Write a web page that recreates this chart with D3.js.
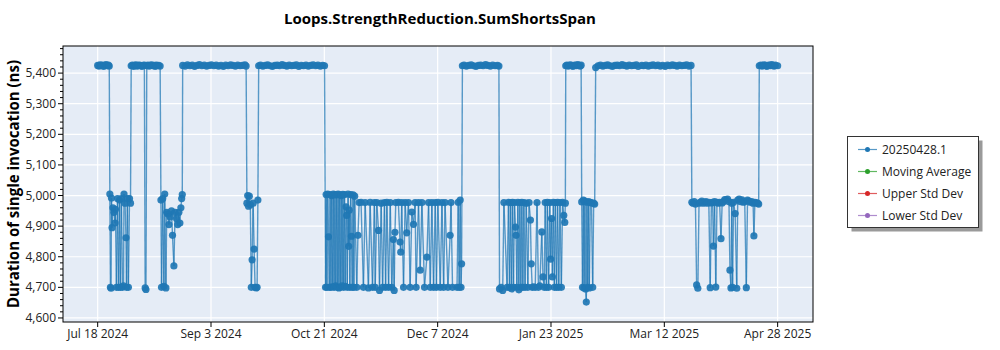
<!DOCTYPE html>
<html><head><meta charset="utf-8">
<script src="https://cdn.jsdelivr.net/npm/d3@7"></script>
<style>
body{margin:0;background:#fff}
text{font-family:"Open Sans","Noto Sans",sans-serif}
</style>
</head><body><svg id="c" width="1000" height="350"></svg>
<script>
const chartTitle = "Loops.StrengthReduction.SumShortsSpan";
const yAxisTitle = "Duration of single invocation (ns)";
const seriesNames = ["20250428.1", "Moving Average", "Upper Std Dev", "Lower Std Dev"];
const seriesColors = ["#1f77b4", "#2ca02c", "#d62728", "#9467bd"];
const xTickDates = ["2024-07-18T12","2024-09-03T20","2024-10-21T04","2024-12-07T12","2025-01-23T20","2025-03-12T04","2025-04-28T12"];
const xTickLabels = ["Jul 18 2024","Sep 3 2024","Oct 21 2024","Dec 7 2024","Jan 23 2025","Mar 12 2025","Apr 28 2025"];
const yTickValues = [4600,4700,4800,4900,5000,5100,5200,5300,5400];

const runTimes = [
"2024-07-18T12","2024-07-19T00","2024-07-19T12","2024-07-20T00","2024-07-20T12","2024-07-21T00",
"2024-07-21T12","2024-07-22T00","2024-07-22T12","2024-07-23T00","2024-07-23T08",
"2024-07-23T14","2024-07-23T20","2024-07-24T02","2024-07-24T06","2024-07-24T12","2024-07-24T21",
"2024-07-25T07","2024-07-25T18","2024-07-25T22","2024-07-26T08","2024-07-26T19","2024-07-27T05",
"2024-07-27T15","2024-07-28T00","2024-07-28T10","2024-07-28T21","2024-07-29T07","2024-07-29T12",
"2024-07-29T22","2024-07-30T08","2024-07-30T13","2024-07-30T22","2024-07-31T08","2024-07-31T19",
"2024-08-01T05",
"2024-08-01T12","2024-08-02T00","2024-08-02T12","2024-08-03T00","2024-08-03T12","2024-08-04T00",
"2024-08-04T12","2024-08-05T00","2024-08-05T12","2024-08-06T00","2024-08-06T12","2024-08-07T00",
"2024-08-07T08","2024-08-07T16","2024-08-08T00","2024-08-08T12","2024-08-09T00","2024-08-09T12",
"2024-08-10T00","2024-08-10T12","2024-08-11T00","2024-08-11T12","2024-08-12T00","2024-08-12T12",
"2024-08-13T00","2024-08-13T14",
"2024-08-13T22","2024-08-14T04","2024-08-14T16","2024-08-15T04","2024-08-15T12","2024-08-16T00",
"2024-08-16T08","2024-08-16T20","2024-08-17T06","2024-08-17T18","2024-08-18T08","2024-08-18T18",
"2024-08-19T08","2024-08-19T20","2024-08-20T10","2024-08-20T22","2024-08-21T10","2024-08-21T20",
"2024-08-22T06","2024-08-22T14","2024-08-22T20",
"2024-08-23T00","2024-08-24T00","2024-08-25T00","2024-08-26T00","2024-08-27T00","2024-08-28T00",
"2024-08-29T00","2024-08-30T00","2024-08-31T00","2024-09-01T00","2024-09-02T00","2024-09-03T00",
"2024-09-04T00","2024-09-05T00","2024-09-06T00","2024-09-07T00","2024-09-08T00","2024-09-09T00",
"2024-09-10T00","2024-09-11T00","2024-09-12T00","2024-09-13T00","2024-09-14T00","2024-09-15T00",
"2024-09-16T00","2024-09-17T00","2024-09-18T00","2024-09-18T12",
"2024-09-18T20","2024-09-19T04","2024-09-19T12","2024-09-19T20","2024-09-20T06","2024-09-20T16",
"2024-09-21T00","2024-09-21T10","2024-09-21T20","2024-09-22T06","2024-09-22T16","2024-09-23T02",
"2024-09-23T10",
"2024-09-23T18","2024-09-24T12","2024-09-25T12","2024-09-26T12","2024-09-27T12","2024-09-28T12",
"2024-09-29T12","2024-09-30T12","2024-10-01T12","2024-10-02T12","2024-10-03T12","2024-10-04T12",
"2024-10-05T12","2024-10-06T12","2024-10-07T12","2024-10-08T12","2024-10-09T12","2024-10-10T12",
"2024-10-11T12","2024-10-12T12","2024-10-13T12","2024-10-14T12","2024-10-15T12","2024-10-16T12",
"2024-10-17T12","2024-10-18T12","2024-10-19T12","2024-10-20T12","2024-10-21T06",
"2024-10-21T16","2024-10-21T22","2024-10-22T06","2024-10-22T14","2024-10-22T22","2024-10-23T06",
"2024-10-23T14","2024-10-23T22","2024-10-24T06","2024-10-24T14","2024-10-24T22","2024-10-25T06",
"2024-10-25T14","2024-10-25T22","2024-10-26T06","2024-10-26T14","2024-10-26T22","2024-10-27T06",
"2024-10-27T14","2024-10-27T22","2024-10-28T06","2024-10-28T14","2024-10-28T22","2024-10-29T06",
"2024-10-29T14","2024-10-29T22","2024-10-30T06","2024-10-30T12","2024-10-30T18","2024-10-31T02",
"2024-10-31T08","2024-10-31T14","2024-10-31T20","2024-11-01T04","2024-11-01T12","2024-11-01T20",
"2024-11-02T04","2024-11-02T12","2024-11-02T20",
"2024-11-03T17","2024-11-04T05","2024-11-04T17","2024-11-05T12","2024-11-06T12","2024-11-07T05",
"2024-11-08T14","2024-11-09T07","2024-11-10T07","2024-11-11T02","2024-11-11T10","2024-11-12T02",
"2024-11-12T19","2024-11-13T05","2024-11-13T22","2024-11-14T12","2024-11-15T07","2024-11-15T18",
"2024-11-16T07","2024-11-17T00","2024-11-17T17","2024-11-18T08","2024-11-19T00","2024-11-19T08",
"2024-11-19T16","2024-11-20T00","2024-11-21T02","2024-11-21T19","2024-11-22T02","2024-11-22T12",
"2024-11-23T06","2024-11-23T22","2024-11-24T14","2024-11-25T07","2024-11-26T00","2024-11-26T17",
"2024-11-27T10","2024-11-28T02","2024-11-28T12","2024-11-29T12","2024-11-30T05","2024-11-30T22",
"2024-12-02T00","2024-12-03T00","2024-12-03T17","2024-12-04T10","2024-12-05T02","2024-12-05T19",
"2024-12-06T12","2024-12-07T00","2024-12-07T14","2024-12-08T14","2024-12-09T07","2024-12-10T00",
"2024-12-10T14","2024-12-11T19","2024-12-12T17","2024-12-13T02","2024-12-13T17",
"2024-12-15T14","2024-12-16T02","2024-12-16T12","2024-12-16T22","2024-12-17T06","2024-12-17T12",
"2024-12-17T20","2024-12-18T12","2024-12-19T12","2024-12-20T12","2024-12-21T12","2024-12-22T12",
"2024-12-23T12","2024-12-24T12","2024-12-25T12","2024-12-26T12","2024-12-27T12","2024-12-28T12",
"2024-12-29T12","2024-12-30T12","2024-12-31T12","2025-01-01T12","2025-01-02T02",
"2025-01-02T08","2025-01-03T00","2025-01-03T16","2025-01-04T04","2025-01-05T12","2025-01-06T02",
"2025-01-06T12","2025-01-06T22","2025-01-07T08","2025-01-07T18","2025-01-08T04","2025-01-08T14",
"2025-01-09T00","2025-01-09T06","2025-01-09T14","2025-01-10T00","2025-01-10T10","2025-01-10T20",
"2025-01-11T06","2025-01-11T16","2025-01-12T02","2025-01-12T12","2025-01-13T00","2025-01-13T12",
"2025-01-14T04","2025-01-14T16","2025-01-15T06","2025-01-15T14","2025-01-16T00","2025-01-16T12",
"2025-01-17T06","2025-01-18T00","2025-01-18T14","2025-01-19T04","2025-01-20T00","2025-01-20T12",
"2025-01-21T00","2025-01-21T10","2025-01-21T22","2025-01-22T08","2025-01-22T20","2025-01-23T08",
"2025-01-23T16","2025-01-24T02","2025-01-24T10","2025-01-24T20","2025-01-25T06","2025-01-25T16",
"2025-01-26T04","2025-01-26T14","2025-01-27T02","2025-01-27T14","2025-01-28T04","2025-01-28T16",
"2025-01-29T04","2025-01-29T14","2025-01-29T20",
"2025-01-30T00","2025-01-30T12","2025-01-31T00","2025-01-31T12","2025-02-01T00","2025-02-01T12",
"2025-02-02T00","2025-02-02T12","2025-02-03T00","2025-02-03T12","2025-02-04T00","2025-02-04T12",
"2025-02-05T00","2025-02-05T10",
"2025-02-05T16","2025-02-06T00","2025-02-06T08","2025-02-06T16","2025-02-07T00","2025-02-07T08",
"2025-02-07T14","2025-02-07T20","2025-02-08T04","2025-02-08T12","2025-02-08T20","2025-02-09T06",
"2025-02-09T18","2025-02-10T06","2025-02-10T16","2025-02-11T02",
"2025-02-11T12","2025-02-12T12","2025-02-13T12","2025-02-14T12","2025-02-15T12","2025-02-16T12",
"2025-02-17T12","2025-02-18T12","2025-02-19T12","2025-02-20T12","2025-02-21T12","2025-02-22T12",
"2025-02-23T12","2025-02-24T12","2025-02-25T12","2025-02-26T12","2025-02-27T12","2025-02-28T12",
"2025-03-01T06","2025-03-02T18","2025-03-03T12","2025-03-04T12","2025-03-05T12","2025-03-06T12",
"2025-03-07T12","2025-03-08T12","2025-03-09T12","2025-03-10T12","2025-03-11T12","2025-03-12T12",
"2025-03-13T12","2025-03-14T12","2025-03-15T12","2025-03-16T12","2025-03-17T12","2025-03-18T12",
"2025-03-19T12","2025-03-20T12","2025-03-21T12","2025-03-22T12","2025-03-23T08",
"2025-03-23T16","2025-03-24T04","2025-03-24T16","2025-03-25T04","2025-03-25T16","2025-03-26T04",
"2025-03-26T16","2025-03-27T06","2025-03-27T20","2025-03-28T10","2025-03-29T00","2025-03-29T14",
"2025-03-30T04","2025-03-30T18","2025-03-31T08","2025-03-31T20","2025-04-01T08","2025-04-01T16",
"2025-04-02T04","2025-04-02T16","2025-04-03T04","2025-04-03T16","2025-04-04T06","2025-04-04T20",
"2025-04-05T08","2025-04-05T20","2025-04-06T10","2025-04-07T00","2025-04-07T14","2025-04-08T04",
"2025-04-08T14","2025-04-09T00","2025-04-09T08","2025-04-09T16","2025-04-10T02","2025-04-10T18",
"2025-04-11T10","2025-04-11T20","2025-04-12T10","2025-04-13T00","2025-04-13T14","2025-04-14T04",
"2025-04-14T18","2025-04-15T10","2025-04-15T22","2025-04-16T12","2025-04-17T02","2025-04-17T16",
"2025-04-18T06","2025-04-18T14","2025-04-19T00","2025-04-19T14","2025-04-20T04","2025-04-20T14",
"2025-04-20T20","2025-04-21T12","2025-04-22T00","2025-04-22T12","2025-04-23T00","2025-04-23T12",
"2025-04-24T00","2025-04-24T12","2025-04-25T00","2025-04-25T12","2025-04-26T00","2025-04-26T12",
"2025-04-27T00","2025-04-27T12","2025-04-28T12"
];

const durations = [
5425,5423,5427,5424,5426,5422,
5425,5428,5424,5426,5423,
5005,4700,4697,4992,4895,4960,
4945,4910,4955,4700,4990,4700,
4985,4700,4990,4700,4705,5005,
4975,4862,4700,4990,4700,4990,
4975,
5424,5426,5422,5425,5427,5423,
5425,5426,5424,5422,5425,5426,
4698,4693,5424,5426,5423,5425,
5427,5424,5425,5422,5426,5424,
5425,5423,
4985,4700,4990,4703,5005,4698,
4945,4940,4905,4930,4950,4870,
4770,4945,4925,4905,4945,4910,
4960,4990,5003,
5425,5423,5427,5424,5426,5422,
5425,5428,5424,5426,5423,5425,
5427,5424,5426,5423,5425,5422,
5426,5424,5427,5425,5423,5426,
5424,5425,5427,5423,
4975,5000,4965,4998,4970,4700,
4790,4975,4825,4700,4698,4700,
4985,
5424,5426,5423,5425,5427,5424,
5422,5425,5426,5424,5428,5425,
5423,5426,5424,5425,5427,5422,
5425,5424,5426,5423,5425,5427,
5424,5426,5423,5425,5424,
4700,5003,4700,5005,4865,4700,
5003,4700,5000,4702,5005,4700,
5003,4705,5002,4700,5005,4698,
5003,4700,5000,4705,5004,4700,
5003,4703,4963,4935,4700,5005,
4834,4952,4700,5003,4867,4700,
5002,4700,4998,
4700,4870,4977,4978,4700,4977,
4698,4978,4700,4977,4700,4977,
4886,4690,4975,4700,4977,4700,
4978,4700,4977,4700,4856,4690,
4880,4977,4978,4848,4815,4977,
4700,4977,4878,4977,4700,4946,
4906,4977,4700,4977,4756,4977,
4700,4799,4977,4700,4977,4700,
4977,4700,4978,4700,4977,4700,
4977,4700,4870,4977,4700,
4700,4978,4700,4985,4700,4777,
5424,5426,5423,5425,5427,5424,
5422,5425,5426,5424,5428,5425,
5423,5426,5424,5425,5423,
4695,4700,4690,4977,4700,4978,
4700,4977,4695,4978,4700,4977,
4897,4870,4700,4978,4692,4977,
4700,4978,4700,4977,4700,4975,
4700,4977,4920,4777,4700,4702,
4700,4977,4700,4705,4881,4734,
4700,4977,4700,4978,4700,4977,
4792,4925,4734,4978,4700,4977,
4700,4978,4700,4977,4700,4978,
4935,4912,4975,
5424,5426,5423,5425,5427,5424,
5422,5425,5426,5424,5428,5425,
5423,5426,
4979,4700,4985,4698,4982,4695,
4652,4978,4700,4980,4698,4978,
4976,4700,4975,4972,
5418,5424,5426,5423,5425,5427,
5424,5422,5425,5426,5424,5428,
5425,5423,5426,5424,5425,5427,
5422,5425,5424,5426,5423,5425,
5427,5424,5426,5423,5425,5422,
5426,5424,5427,5425,5423,5426,
5424,5425,5427,5423,5425,
4978,4975,4980,4972,4708,4697,
4975,4978,4982,4975,4978,4980,
4975,4978,4699,4976,4978,4835,
4980,4701,4978,4975,4978,4859,
4976,4980,4987,4985,4988,4980,
4756,4698,4975,4700,4978,4941,
4697,4985,4988,4980,4986,4978,
4980,4699,4985,4982,4978,4980,
4975,4868,4978,4976,4975,4972,
5424,5426,5423,5425,5427,5424,
5422,5425,5426,5424,5428,5425,
5423,5426,5424
];

// Legend-only companion series (no points in this run)
const movingAverage = [];
const upperStdDev = [];
const lowerStdDev = [];

const plot = {left: 63, top: 46, right: 813, bottom: 322};
const parseTime = d3.timeParse("%Y-%m-%dT%H");
const n = Math.min(runTimes.length, durations.length);
const points = d3.range(n).map(i => ({t: parseTime(runTimes[i]), v: durations[i]}));

const svg = d3.select("#c");

const tExt = d3.extent(points, d => d.t);
const tSpan = tExt[1] - tExt[0];
const x = d3.scaleTime()
  .domain([new Date(+tExt[0] - tSpan * 0.051), new Date(+tExt[1] + tSpan * 0.052)])
  .range([plot.left, plot.right]);
const vExt = d3.extent(points, d => d.v);
const vSpan = vExt[1] - vExt[0];
const y = d3.scaleLinear()
  .domain([vExt[0] - vSpan * 0.084, vExt[1] + vSpan * 0.078])
  .range([plot.bottom, plot.top]);

svg.append("rect").attr("x", plot.left).attr("y", plot.top)
  .attr("width", plot.right - plot.left).attr("height", plot.bottom - plot.top)
  .attr("fill", "#e5ecf6");

const xTicks = xTickDates.map(parseTime);

const grid = svg.append("g");
grid.selectAll(".gx").data(xTicks).join("line")
  .attr("x1", d => x(d)).attr("x2", d => x(d))
  .attr("y1", plot.top).attr("y2", plot.bottom)
  .attr("stroke", "#fff").attr("stroke-width", 1.2);
grid.selectAll(".gy").data(yTickValues).join("line")
  .attr("x1", plot.left).attr("x2", plot.right)
  .attr("y1", d => y(d)).attr("y2", d => y(d))
  .attr("stroke", "#fff").attr("stroke-width", 1.2);

svg.append("clipPath").attr("id", "clip").append("rect")
  .attr("x", plot.left).attr("y", plot.top)
  .attr("width", plot.right - plot.left).attr("height", plot.bottom - plot.top);

const series = svg.append("g").attr("clip-path", "url(#clip)");
const segs = d3.pairs(points);
series.selectAll("line.seg").data(segs).join("line")
  .attr("class", "seg")
  .attr("x1", d => x(d[0].t)).attr("y1", d => y(d[0].v))
  .attr("x2", d => x(d[1].t)).attr("y2", d => y(d[1].v))
  .attr("stroke", seriesColors[0]).attr("stroke-width", 1.4)
  .attr("stroke-opacity", 0.72);
series.selectAll("circle").data(points).join("circle")
  .attr("cx", d => x(d.t)).attr("cy", d => y(d.v)).attr("r", 3.6)
  .attr("fill", seriesColors[0]).attr("fill-opacity", 0.92);

svg.append("rect").attr("x", plot.left).attr("y", plot.top)
  .attr("width", plot.right - plot.left).attr("height", plot.bottom - plot.top)
  .attr("fill", "none").attr("stroke", "#000").attr("stroke-width", 1);

const yMinor = d3.range(4600, 5481, 20).filter(v => v % 100 !== 0 && v >= y.domain()[0] && v <= y.domain()[1]);
svg.append("g").selectAll("line").data(yMinor).join("line")
  .attr("x1", plot.left - 3).attr("x2", plot.left)
  .attr("y1", d => y(d)).attr("y2", d => y(d))
  .attr("stroke", "#000").attr("stroke-width", 1);
const yAx = svg.append("g");
yAx.selectAll("line").data(yTickValues).join("line")
  .attr("x1", plot.left - 5).attr("x2", plot.left)
  .attr("y1", d => y(d)).attr("y2", d => y(d))
  .attr("stroke", "#000").attr("stroke-width", 1);
const fmt = d3.format(",");
yAx.selectAll("text").data(yTickValues).join("text")
  .attr("x", plot.left - 7).attr("y", d => y(d) + 4)
  .attr("text-anchor", "end").attr("font-size", 12).attr("fill", "#222")
  .text(d => fmt(d));

const xAx = svg.append("g");
xAx.selectAll("line").data(xTicks).join("line")
  .attr("x1", d => x(d)).attr("x2", d => x(d))
  .attr("y1", plot.bottom).attr("y2", plot.bottom + 5)
  .attr("stroke", "#000").attr("stroke-width", 1);
xAx.selectAll("text").data(xTicks).join("text")
  .attr("x", d => x(d)).attr("y", plot.bottom + 16)
  .attr("text-anchor", "middle").attr("font-size", 12).attr("fill", "#222")
  .text((d, i) => xTickLabels[i]);

svg.append("text").attr("x", 440).attr("y", 24)
  .attr("text-anchor", "middle").attr("font-size", 15).attr("font-weight", "bold")
  .attr("fill", "#000").attr("textLength", 312).attr("lengthAdjust", "spacingAndGlyphs")
  .text(chartTitle);
svg.append("text").attr("transform", "translate(19,184) rotate(-90)")
  .attr("text-anchor", "middle").attr("font-size", 16.5).attr("font-weight", "bold")
  .attr("fill", "#000").attr("textLength", 248).attr("lengthAdjust", "spacingAndGlyphs")
  .text(yAxisTitle);

const lg = {x: 847.5, y: 136.5, w: 131, h: 91};
svg.append("rect").attr("x", lg.x + 4).attr("y", lg.y + 4).attr("width", lg.w).attr("height", lg.h)
  .attr("fill", "#9a9a9a");
svg.append("rect").attr("x", lg.x).attr("y", lg.y).attr("width", lg.w).attr("height", lg.h)
  .attr("fill", "#fff").attr("stroke", "#333").attr("stroke-width", 1);
const rowsY = [149.5, 171.5, 193.5, 215.5];
const items = svg.append("g").selectAll("g").data(seriesNames).join("g")
  .attr("transform", (d, i) => `translate(0,${rowsY[i]})`);
items.append("line").attr("x1", 858).attr("x2", 877).attr("y1", 0).attr("y2", 0)
  .attr("stroke", (d, i) => seriesColors[i]).attr("stroke-width", 1.2).attr("stroke-opacity", 0.75);
items.append("circle").attr("cx", 867.5).attr("cy", 0).attr("r", 2.5)
  .attr("fill", (d, i) => seriesColors[i]);
items.append("text").attr("x", 882).attr("y", 4).attr("font-size", 12).attr("fill", "#222")
  .text(d => d);
</script>
</body></html>
